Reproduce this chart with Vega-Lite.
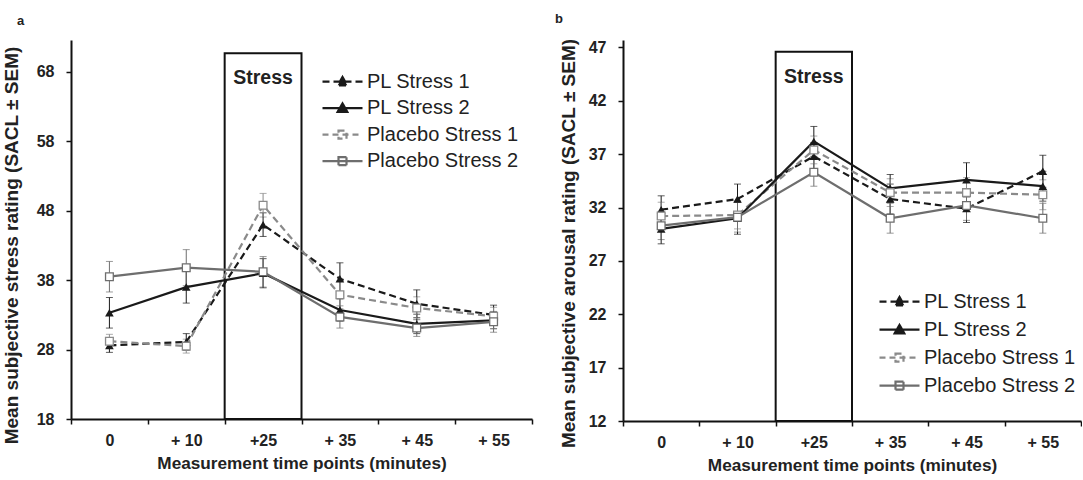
{
  "$schema": "https://vega.github.io/schema/vega-lite/v6.json",
  "padding": {"left": 2, "top": 13, "right": 0, "bottom": 0},
  "background": "white",
  "config": {
    "view": {"stroke": null},
    "font": "Liberation Sans",
    "axis": {"labelFont": "Liberation Sans", "labelFontSize": 16, "labelFontWeight": "bold", "labelColor": "#222", "titleFont": "Liberation Sans", "titleFontWeight": "bold", "titleColor": "#222", "domainColor": "#111", "domainWidth": 2, "tickColor": "#111", "tickWidth": 1.5, "tickSize": 5, "grid": false},
    "axisX": {"titleFontSize": 17.2},
    "axisY": {"titleFontSize": 19},
    "legend": {"padding": 0, "symbolSize": 1600, "symbolStrokeWidth": 2, "symbolOpacity": 1, "symbolFillColor": "white", "symbolStrokeColor": "#1a1a1a", "labelFont": "Liberation Sans", "labelFontSize": 20, "labelColor": "#222", "labelOffset": 3, "clipHeight": 20, "orient": "none"},
    "title": {"font": "Liberation Sans", "fontSize": 13, "fontWeight": "bold", "color": "#222", "anchor": "start", "frame": "group"}
  },
  "datasets": {
    "a": [
      {"t": "0", "s": "PL Stress 1", "m": 28.6, "e": 1.0},
      {"t": "0", "s": "PL Stress 2", "m": 33.3, "e": 2.2},
      {"t": "0", "s": "Placebo Stress 1", "m": 29.2, "e": 1.0},
      {"t": "0", "s": "Placebo Stress 2", "m": 38.5, "e": 2.2},
      {"t": "+ 10", "s": "PL Stress 1", "m": 29.1, "e": 1.2},
      {"t": "+ 10", "s": "PL Stress 2", "m": 37.0, "e": 2.3},
      {"t": "+ 10", "s": "Placebo Stress 1", "m": 28.5, "e": 1.0},
      {"t": "+ 10", "s": "Placebo Stress 2", "m": 39.8, "e": 2.6},
      {"t": "+25", "s": "PL Stress 1", "m": 46.0, "e": 1.7},
      {"t": "+25", "s": "PL Stress 2", "m": 39.0, "e": 2.1},
      {"t": "+25", "s": "Placebo Stress 1", "m": 48.8, "e": 1.7},
      {"t": "+25", "s": "Placebo Stress 2", "m": 39.2, "e": 2.2},
      {"t": "+ 35", "s": "PL Stress 1", "m": 38.2, "e": 2.3},
      {"t": "+ 35", "s": "PL Stress 2", "m": 33.7, "e": 1.6},
      {"t": "+ 35", "s": "Placebo Stress 1", "m": 35.9, "e": 2.0},
      {"t": "+ 35", "s": "Placebo Stress 2", "m": 32.7, "e": 1.6},
      {"t": "+ 45", "s": "PL Stress 1", "m": 34.6, "e": 2.0},
      {"t": "+ 45", "s": "PL Stress 2", "m": 31.7, "e": 1.4},
      {"t": "+ 45", "s": "Placebo Stress 1", "m": 34.0, "e": 1.6},
      {"t": "+ 45", "s": "Placebo Stress 2", "m": 31.1, "e": 1.2},
      {"t": "+ 55", "s": "PL Stress 1", "m": 33.0, "e": 1.4},
      {"t": "+ 55", "s": "PL Stress 2", "m": 32.2, "e": 1.2},
      {"t": "+ 55", "s": "Placebo Stress 1", "m": 32.8, "e": 1.3},
      {"t": "+ 55", "s": "Placebo Stress 2", "m": 32.0, "e": 1.5}
    ],
    "b": [
      {"t": "0", "s": "PL Stress 1", "m": 31.8, "e": 1.3},
      {"t": "0", "s": "PL Stress 2", "m": 30.0, "e": 1.4},
      {"t": "0", "s": "Placebo Stress 1", "m": 31.2, "e": 1.3},
      {"t": "0", "s": "Placebo Stress 2", "m": 30.3, "e": 1.3},
      {"t": "+ 10", "s": "PL Stress 1", "m": 32.8, "e": 1.4},
      {"t": "+ 10", "s": "PL Stress 2", "m": 31.0, "e": 1.5},
      {"t": "+ 10", "s": "Placebo Stress 1", "m": 31.3, "e": 1.3},
      {"t": "+ 10", "s": "Placebo Stress 2", "m": 31.1, "e": 1.4},
      {"t": "+25", "s": "PL Stress 1", "m": 36.8, "e": 1.3},
      {"t": "+25", "s": "PL Stress 2", "m": 38.2, "e": 1.4},
      {"t": "+25", "s": "Placebo Stress 1", "m": 37.4, "e": 1.3},
      {"t": "+25", "s": "Placebo Stress 2", "m": 35.3, "e": 1.3},
      {"t": "+ 35", "s": "PL Stress 1", "m": 32.8, "e": 1.4},
      {"t": "+ 35", "s": "PL Stress 2", "m": 33.8, "e": 1.3},
      {"t": "+ 35", "s": "Placebo Stress 1", "m": 33.4, "e": 1.3},
      {"t": "+ 35", "s": "Placebo Stress 2", "m": 31.0, "e": 1.4},
      {"t": "+ 45", "s": "PL Stress 1", "m": 31.9, "e": 1.3},
      {"t": "+ 45", "s": "PL Stress 2", "m": 34.6, "e": 1.6},
      {"t": "+ 45", "s": "Placebo Stress 1", "m": 33.4, "e": 1.4},
      {"t": "+ 45", "s": "Placebo Stress 2", "m": 32.2, "e": 1.4},
      {"t": "+ 55", "s": "PL Stress 1", "m": 35.4, "e": 1.5},
      {"t": "+ 55", "s": "PL Stress 2", "m": 34.0, "e": 1.4},
      {"t": "+ 55", "s": "Placebo Stress 1", "m": 33.2, "e": 1.4},
      {"t": "+ 55", "s": "Placebo Stress 2", "m": 31.0, "e": 1.4}
    ]
  },
  "resolve": {
    "scale": {"color": "independent", "fill": "independent", "stroke": "independent", "shape": "independent", "strokeDash": "independent", "strokeWidth": "independent"},
    "legend": {"color": "independent", "fill": "independent", "stroke": "independent", "shape": "independent", "strokeDash": "independent", "strokeWidth": "independent"}
  },
  "spacing": 22,
  "hconcat": [
    {
      "width": 461,
      "height": 379,
      "title": {"text": "a", "dx": -54, "offset": 12},
      "data": {"name": "a"},
      "encoding": {
        "x": {"field": "t", "type": "nominal", "sort": null, "scale": {"type": "band", "domain": ["0", "+ 10", "+25", "+ 35", "+ 45", "+ 55"], "paddingInner": 0, "paddingOuter": 0}, "axis": {"title": "Measurement time points (minutes)", "tickBand": "extent", "labelAngle": 0, "labelPadding": 8, "titlePadding": 6}},
        "y": {"field": "m", "type": "quantitative", "scale": {"domain": [18, 72.6], "nice": false, "zero": false}, "axis": {"title": "Mean subjective stress rating (SACL ± SEM)", "values": [18, 28, 38, 48, 58, 68], "labelPadding": 12, "titlePadding": 15, "titleY": 205}}
      },
      "layer": [
        {
          "mark": {"type": "point", "opacity": 0, "filled": false},
          "encoding": {
            "shape": {"field": "s", "type": "nominal", "scale": {"domain": ["PL Stress 1", "PL Stress 2", "Placebo Stress 1", "Placebo Stress 2"], "range": ["M-1,0H1M0,-0.24L0.24,0.18L-0.24,0.18Z", "M-1,0H1M0,-0.24L0.24,0.18L-0.24,0.18Z", "M-1,0H1M-0.2,-0.2H0.2V0.2H-0.2Z", "M-1,0H1M-0.2,-0.2H0.2V0.2H-0.2Z"]}, "legend": {"title": null, "legendX": 250, "legendY": 31.7, "rowPadding": 6.5}},
            "stroke": {"field": "s", "type": "nominal", "scale": {"domain": ["PL Stress 1", "PL Stress 2", "Placebo Stress 1", "Placebo Stress 2"], "range": ["#1a1a1a", "#1a1a1a", "#8a8a8a", "#6e6e6e"]}, "legend": {"title": null, "legendX": 250, "legendY": 31.7, "rowPadding": 6.5}},
            "fill": {"field": "s", "type": "nominal", "scale": {"domain": ["PL Stress 1", "PL Stress 2", "Placebo Stress 1", "Placebo Stress 2"], "range": ["#1a1a1a", "#1a1a1a", "white", "white"]}, "legend": {"title": null, "legendX": 250, "legendY": 31.7, "rowPadding": 6.5}},
            "strokeDash": {"field": "s", "type": "nominal", "scale": {"domain": ["PL Stress 1", "PL Stress 2", "Placebo Stress 1", "Placebo Stress 2"], "range": [[7, 4], [1, 0], [6, 4], [1, 0]]}, "legend": {"title": null, "legendX": 250, "legendY": 31.7, "rowPadding": 6.5}}
          }
        },
        {
          "transform": [{"filter": {"field": "s", "equal": "PL Stress 1"}}, {"filter": {"field": "t", "equal": "+25"}}],
          "mark": {"type": "rect", "fill": "white", "fillOpacity": 0, "stroke": "#111", "strokeWidth": 2},
          "encoding": {"y": {"datum": 18, "type": "quantitative"}, "y2": {"datum": 70.7}}
        },
        {
          "transform": [{"filter": {"field": "s", "equal": "PL Stress 1"}}, {"filter": {"field": "t", "equal": "+25"}}],
          "mark": {"type": "text", "text": "Stress", "fontSize": 19.5, "fontWeight": "bold", "color": "#222", "baseline": "middle"},
          "encoding": {"y": {"datum": 67.1, "type": "quantitative"}}
        },
        {
          "mark": {"type": "errorbar", "ticks": true, "size": 7, "thickness": 1},
          "encoding": {
            "yError": {"field": "e"},
            "color": {"field": "s", "type": "nominal", "legend": null, "scale": {"domain": ["PL Stress 1", "PL Stress 2", "Placebo Stress 1", "Placebo Stress 2"], "range": ["#1a1a1a", "#1a1a1a", "#8a8a8a", "#6e6e6e"]}}
          }
        },
        {
          "transform": [{"filter": {"field": "s", "oneOf": ["PL Stress 1", "Placebo Stress 1"]}}],
          "mark": {"type": "line", "strokeDash": [7, 4]},
          "encoding": {
            "color": {"field": "s", "type": "nominal", "legend": null},
            "strokeWidth": {"field": "s", "type": "nominal", "legend": null, "scale": {"domain": ["PL Stress 1", "PL Stress 2", "Placebo Stress 1", "Placebo Stress 2"], "range": [2.2, 2.2, 1.6, 1.6]}}
          }
        },
        {
          "transform": [{"filter": {"field": "s", "oneOf": ["PL Stress 2", "Placebo Stress 2"]}}],
          "mark": {"type": "line"},
          "encoding": {
            "color": {"field": "s", "type": "nominal", "legend": null},
            "strokeWidth": {"field": "s", "type": "nominal", "legend": null}
          }
        },
        {
          "transform": [{"filter": {"field": "s", "oneOf": ["PL Stress 1", "PL Stress 2"]}}],
          "mark": {"type": "point", "shape": "triangle-up", "filled": true, "size": 75, "opacity": 1},
          "encoding": {"color": {"field": "s", "type": "nominal", "legend": null}}
        },
        {
          "transform": [{"filter": {"field": "s", "oneOf": ["Placebo Stress 1", "Placebo Stress 2"]}}],
          "mark": {"type": "point", "shape": "square", "filled": false, "fill": "white", "size": 60, "strokeWidth": 1.3, "opacity": 1},
          "encoding": {"color": {"field": "s", "type": "nominal", "legend": null}}
        }
      ]
    },
    {
      "width": 458,
      "height": 381,
      "title": {"text": "b", "dx": -68, "offset": 12},
      "data": {"name": "b"},
      "encoding": {
        "x": {"field": "t", "type": "nominal", "sort": null, "scale": {"type": "band", "domain": ["0", "+ 10", "+25", "+ 35", "+ 45", "+ 55"], "paddingInner": 0, "paddingOuter": 0}, "axis": {"title": "Measurement time points (minutes)", "tickBand": "extent", "labelAngle": 0, "labelPadding": 8, "titlePadding": 6}},
        "y": {"field": "m", "type": "quantitative", "scale": {"domain": [12, 47.7], "nice": false, "zero": false}, "axis": {"title": "Mean subjective arousal rating (SACL ± SEM)", "values": [12, 17, 22, 27, 32, 37, 42, 47], "labelPadding": 12, "titlePadding": 10, "titleY": 203}}
      },
      "layer": [
        {
          "mark": {"type": "point", "opacity": 0, "filled": false},
          "encoding": {
            "shape": {"field": "s", "type": "nominal", "scale": {"domain": ["PL Stress 1", "PL Stress 2", "Placebo Stress 1", "Placebo Stress 2"], "range": ["M-1,0H1M0,-0.24L0.24,0.18L-0.24,0.18Z", "M-1,0H1M0,-0.24L0.24,0.18L-0.24,0.18Z", "M-1,0H1M-0.2,-0.2H0.2V0.2H-0.2Z", "M-1,0H1M-0.2,-0.2H0.2V0.2H-0.2Z"]}, "legend": {"title": null, "legendX": 255, "legendY": 251.7, "rowPadding": 8}},
            "stroke": {"field": "s", "type": "nominal", "scale": {"domain": ["PL Stress 1", "PL Stress 2", "Placebo Stress 1", "Placebo Stress 2"], "range": ["#1a1a1a", "#1a1a1a", "#8a8a8a", "#6e6e6e"]}, "legend": {"title": null, "legendX": 255, "legendY": 251.7, "rowPadding": 8}},
            "fill": {"field": "s", "type": "nominal", "scale": {"domain": ["PL Stress 1", "PL Stress 2", "Placebo Stress 1", "Placebo Stress 2"], "range": ["#1a1a1a", "#1a1a1a", "white", "white"]}, "legend": {"title": null, "legendX": 255, "legendY": 251.7, "rowPadding": 8}},
            "strokeDash": {"field": "s", "type": "nominal", "scale": {"domain": ["PL Stress 1", "PL Stress 2", "Placebo Stress 1", "Placebo Stress 2"], "range": [[7, 4], [1, 0], [6, 4], [1, 0]]}, "legend": {"title": null, "legendX": 255, "legendY": 251.7, "rowPadding": 8}}
          }
        },
        {
          "transform": [{"filter": {"field": "s", "equal": "PL Stress 1"}}, {"filter": {"field": "t", "equal": "+25"}}],
          "mark": {"type": "rect", "fill": "white", "fillOpacity": 0, "stroke": "#111", "strokeWidth": 2},
          "encoding": {"y": {"datum": 12, "type": "quantitative"}, "y2": {"datum": 46.6}}
        },
        {
          "transform": [{"filter": {"field": "s", "equal": "PL Stress 1"}}, {"filter": {"field": "t", "equal": "+25"}}],
          "mark": {"type": "text", "text": "Stress", "fontSize": 19.5, "fontWeight": "bold", "color": "#222", "baseline": "middle"},
          "encoding": {"y": {"datum": 44.25, "type": "quantitative"}}
        },
        {
          "mark": {"type": "errorbar", "ticks": true, "size": 7, "thickness": 1},
          "encoding": {
            "yError": {"field": "e"},
            "color": {"field": "s", "type": "nominal", "legend": null, "scale": {"domain": ["PL Stress 1", "PL Stress 2", "Placebo Stress 1", "Placebo Stress 2"], "range": ["#1a1a1a", "#1a1a1a", "#8a8a8a", "#6e6e6e"]}}
          }
        },
        {
          "transform": [{"filter": {"field": "s", "oneOf": ["PL Stress 1", "Placebo Stress 1"]}}],
          "mark": {"type": "line", "strokeDash": [7, 4]},
          "encoding": {
            "color": {"field": "s", "type": "nominal", "legend": null},
            "strokeWidth": {"field": "s", "type": "nominal", "legend": null, "scale": {"domain": ["PL Stress 1", "PL Stress 2", "Placebo Stress 1", "Placebo Stress 2"], "range": [2.2, 2.2, 1.6, 1.6]}}
          }
        },
        {
          "transform": [{"filter": {"field": "s", "oneOf": ["PL Stress 2", "Placebo Stress 2"]}}],
          "mark": {"type": "line"},
          "encoding": {
            "color": {"field": "s", "type": "nominal", "legend": null},
            "strokeWidth": {"field": "s", "type": "nominal", "legend": null}
          }
        },
        {
          "transform": [{"filter": {"field": "s", "oneOf": ["PL Stress 1", "PL Stress 2"]}}],
          "mark": {"type": "point", "shape": "triangle-up", "filled": true, "size": 75, "opacity": 1},
          "encoding": {"color": {"field": "s", "type": "nominal", "legend": null}}
        },
        {
          "transform": [{"filter": {"field": "s", "oneOf": ["Placebo Stress 1", "Placebo Stress 2"]}}],
          "mark": {"type": "point", "shape": "square", "filled": false, "fill": "white", "size": 60, "strokeWidth": 1.3, "opacity": 1},
          "encoding": {"color": {"field": "s", "type": "nominal", "legend": null}}
        }
      ]
    }
  ]
}
